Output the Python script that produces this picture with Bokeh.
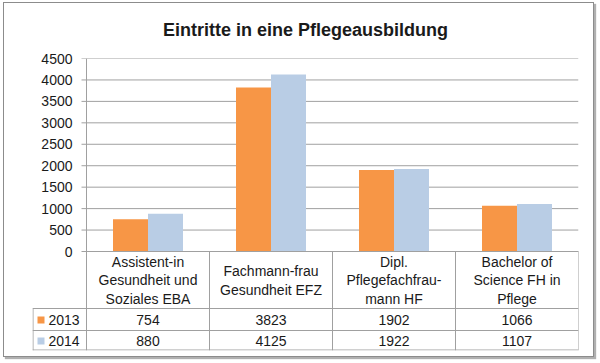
from bokeh.plotting import figure
from bokeh.models import Range1d, LinearAxis, FixedTicker, Title
from bokeh.embed import file_html
from bokeh.resources import INLINE
from bokeh.core.properties import value

# ---------------- data ----------------
title_text = "Eintritte in eine Pflegeausbildung"
categories = [
    "Assistent-in\nGesundheit und\nSoziales EBA",
    "Fachmann-frau\nGesundheit EFZ",
    "Dipl.\nPflegefachfrau-\nmann HF",
    "Bachelor of\nScience FH in\nPflege",
]
series_names = ["2013", "2014"]
values_2013 = [754, 3823, 1902, 1066]
values_2014 = [880, 4125, 1922, 1107]
y_ticks = [0, 500, 1000, 1500, 2000, 2500, 3000, 3500, 4000, 4500]
colors = ["#F79646", "#B9CDE5"]

# ---------------- layout constants (pixels inside the canvas) ----------------
OX, OY = 4, 3                           # canvas origin on the page
W, H = 591, 355
FL, FR, FT, FB = 32 - OX, 578 - OX, 58 - OY, 350 - OY   # frame edges
CAT_L = 86 - OX                         # left edge of first category column
CAT_W = (FR - CAT_L) / len(categories)  # px per category
ZERO = 251 - OY                         # px row of value 0
YMAX = y_ticks[-1]
UPP = YMAX / (ZERO - FT)                # value units per px

def yv(py):
    return YMAX - (py - FT) * UPP

def xv(px):
    return (px - CAT_L) / CAT_W

HEAD_B = 308 - OY   # header row bottom
ROW1_B = 330 - OY   # 2013 row bottom

font = value("Liberation Sans")
grid_col = "#A0A0A0"
text_col = "#1A1A1A"

p = figure(width=W, height=H, output_backend="svg", toolbar_location=None,
           x_range=Range1d(xv(FL), len(categories)), y_range=Range1d(yv(FB), YMAX),
           min_border_left=FL, min_border_right=W - FR, min_border_top=FT,
           min_border_bottom=H - FB, x_axis_type=None, y_axis_type=None,
           styles={"border": "1px solid #8C8C8C", "box-shadow": "2px 2px 1px #B0B0B0",
                   "margin-left": "3px", "margin-top": "2px"})
p.outline_line_color = None
p.xgrid.visible = False
p.ygrid.visible = False

main_title = Title(text=title_text, align="center", text_font="Liberation Sans",
                   text_font_size="18px", text_font_style="bold", text_color=text_col)
spacer = Title(text=" ", text_font_size="2px")
p.add_layout(spacer, "above")
p.add_layout(main_title, "above")

# y axis labels (placed over the table's left column via negative standoff)
yax = LinearAxis(ticker=FixedTicker(ticks=y_ticks))
yax.axis_line_color = None
yax.major_tick_line_color = None
yax.minor_tick_line_color = None
yax.major_tick_out = 0
yax.major_label_standoff = -(72 - 32)
yax.major_label_text_font = "Liberation Sans"
yax.major_label_text_font_size = "14px"
yax.major_label_text_color = text_col
p.add_layout(yax, "left")

n = len(categories)

# gridlines (with small outward tick)
p.segment(x0=[xv(CAT_L - 5)] * len(y_ticks), x1=[n] * len(y_ticks),
          y0=y_ticks, y1=y_ticks, line_color=grid_col, line_width=1)

# bars
bw = 35 / CAT_W
xs = [i + 0.5 for i in range(n)]
p.vbar(x=[x - bw / 2 for x in xs], top=values_2013, width=bw, bottom=0,
       fill_color=colors[0], line_color=None)
p.vbar(x=[x + bw / 2 for x in xs], top=values_2014, width=bw, bottom=0,
       fill_color=colors[1], line_color=None)

# axis line at zero and left axis line through table
p.segment(x0=[0], x1=[n], y0=[0], y1=[0], line_color=grid_col)
p.segment(x0=[0], x1=[0], y0=[yv(FB)], y1=[YMAX], line_color=grid_col)

# table lines
bounds = list(range(1, n + 1))
p.segment(x0=bounds, x1=bounds, y0=[0] * n, y1=[yv(FB)] * n, line_color=grid_col)
p.segment(x0=[xv(FL)] * 3, x1=[n] * 3, y0=[yv(HEAD_B), yv(ROW1_B), yv(FB - 0.5)],
          y1=[yv(HEAD_B), yv(ROW1_B), yv(FB - 0.5)], line_color=grid_col)
p.segment(x0=[xv(FL + 0.5)], x1=[xv(FL + 0.5)], y0=[yv(HEAD_B)], y1=[yv(FB)],
          line_color=grid_col)

# header row (category labels)
p.text(x=xs, y=[yv((ZERO + HEAD_B) / 2 + 0.5)] * n, text=categories,
       text_font=font, text_font_size="14px", text_color=text_col,
       text_align="center", text_baseline="middle", text_line_height=1.15)

# value rows
row_y = [yv((HEAD_B + ROW1_B) / 2 + 0.5), yv((ROW1_B + FB) / 2 + 0.5)]
for vals, ry, nm, col in zip([values_2013, values_2014], row_y, series_names, colors):
    p.text(x=xs, y=[ry] * n, text=[str(v) for v in vals], text_font=font,
           text_font_size="14px", text_color=text_col, text_align="center",
           text_baseline="middle")
    p.scatter(x=[xv(40.5 - OX)], y=[ry], marker="square", size=7, fill_color=col,
              line_color=None)
    p.text(x=[xv(48 - OX)], y=[ry], text=[nm], text_font=font, text_font_size="14px",
           text_color=text_col, text_align="left", text_baseline="middle")

open("out.html", "w").write(file_html(p, INLINE))
